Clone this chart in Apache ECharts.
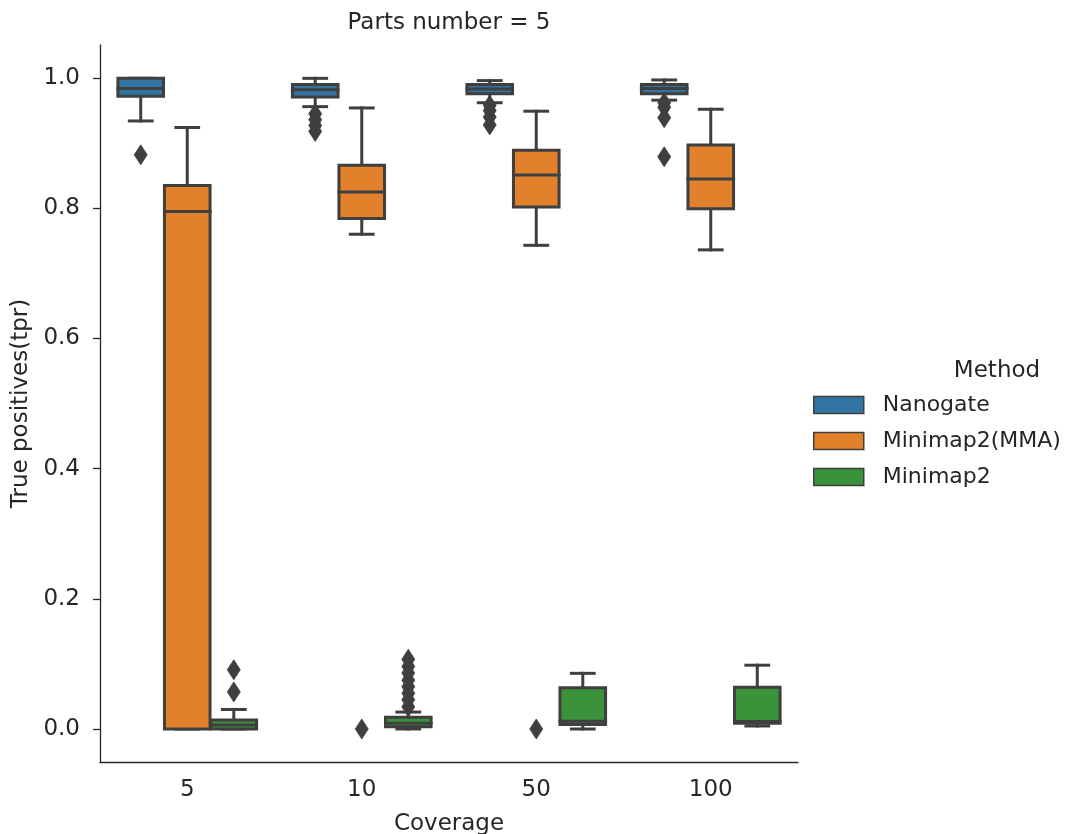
<!DOCTYPE html>
<html>
<head>
<meta charset="utf-8">
<script src="https://cdn.jsdelivr.net/npm/echarts@6/dist/echarts.min.js"></script>
<style>
  html, body { margin: 0; padding: 0; background: #fff; }
  #chart { width: 1082px; height: 834px; }
</style>
</head>
<body>
<div id="chart"></div>
<script>
// Coverage levels on the x axis
const categories = ['5', '10', '50', '100'];
const methods = ['Nanogate', 'Minimap2(MMA)', 'Minimap2'];
const yTicks = [0.0, 0.2, 0.4, 0.6, 0.8, 1.0];

// Box statistics per coverage: [whisker low, Q1, median, Q3, whisker high]
const nanogateBoxes = [
  [0.934, 0.972, 0.984, 0.9995, 0.9995],
  [0.956, 0.971, 0.982, 0.990, 0.9995],
  [0.962, 0.976, 0.983, 0.990, 0.996],
  [0.966, 0.976, 0.984, 0.990, 0.997]
];
const mmaBoxes = [
  [0.0, 0.0, 0.795, 0.835, 0.924],
  [0.760, 0.784, 0.825, 0.866, 0.954],
  [0.743, 0.802, 0.851, 0.889, 0.949],
  [0.736, 0.799, 0.845, 0.897, 0.952]
];
const minimapBoxes = [
  [0.0, 0.0, 0.006, 0.014, 0.030],
  [0.0, 0.0036, 0.009, 0.018, 0.026],
  [0.0, 0.007, 0.012, 0.0635, 0.0855],
  [0.0046, 0.0088, 0.0115, 0.064, 0.098]
];

// Outliers per coverage
const nanogateOutliers = [
  [0.882],
  [0.945, 0.936, 0.927, 0.918],
  [0.958, 0.950, 0.940, 0.928],
  [0.962, 0.955, 0.939, 0.879]
];
const mmaOutliers = [
  [],
  [0.0],
  [0.0],
  []
];
const minimapOutliers = [
  [0.057, 0.091],
  [0.034, 0.045, 0.055, 0.065, 0.075, 0.086, 0.096, 0.107],
  [],
  []
];

const FILLS = ['#3274a1', '#e1812c', '#3a923a'];
const EDGE = '#3f3f3f';
const TEXT = '#262626';
const FONT = 'DejaVu Sans';
const LW = 3;
const GROUP_WIDTH = 0.8;   // share of a category band used by the three boxes

function boxData(boxes) {
  return boxes.map((b, i) => [i].concat(b));
}
function outlierData(list) {
  const out = [];
  list.forEach((vals, i) => vals.forEach(v => out.push([i, v])));
  return out;
}

function slotGeometry(api, cat, slot) {
  const band = api.size([1, 0])[0];
  const step = band * GROUP_WIDTH / 3;
  const cx = api.coord([cat, 0])[0] + (slot - 1) * step;
  return { cx: cx, w: step * 0.98 };
}

function boxRenderer(slot) {
  return function (params, api) {
    const cat = api.value(0);
    const g = slotGeometry(api, cat, slot);
    const y = i => api.coord([cat, api.value(i)])[1];
    const yMin = y(1), yQ1 = y(2), yMed = y(3), yQ3 = y(4), yMax = y(5);
    const cap = g.w / 4;
    const ls = { stroke: EDGE, lineWidth: LW, lineCap: 'square', fill: null };
    return {
      type: 'group',
      children: [
        { type: 'line', shape: { x1: g.cx, y1: yQ3, x2: g.cx, y2: yMax }, style: ls },
        { type: 'line', shape: { x1: g.cx, y1: yQ1, x2: g.cx, y2: yMin }, style: ls },
        { type: 'line', shape: { x1: g.cx - cap, y1: yMax, x2: g.cx + cap, y2: yMax }, style: ls },
        { type: 'line', shape: { x1: g.cx - cap, y1: yMin, x2: g.cx + cap, y2: yMin }, style: ls },
        {
          type: 'rect',
          shape: { x: g.cx - g.w / 2, y: yQ3, width: g.w, height: yQ1 - yQ3 },
          style: { fill: FILLS[slot], stroke: EDGE, lineWidth: LW }
        },
        { type: 'line', shape: { x1: g.cx - g.w / 2, y1: yMed, x2: g.cx + g.w / 2, y2: yMed }, style: ls }
      ]
    };
  };
}

function outlierRenderer(slot) {
  return function (params, api) {
    const cat = api.value(0);
    const g = slotGeometry(api, cat, slot);
    const py = api.coord([cat, api.value(1)])[1];
    const hw = 6.5, hh = 10;
    return {
      type: 'polygon',
      shape: { points: [[g.cx, py - hh], [g.cx + hw, py], [g.cx, py + hh], [g.cx - hw, py]] },
      style: { fill: EDGE, stroke: EDGE, lineWidth: 0.8 }
    };
  };
}

const boxSets = [nanogateBoxes, mmaBoxes, minimapBoxes];
const outlierSets = [nanogateOutliers, mmaOutliers, minimapOutliers];

const series = [];
methods.forEach((m, k) => {
  series.push({
    name: m,
    type: 'custom',
    renderItem: boxRenderer(k),
    encode: { x: 0, y: [1, 2, 3, 4, 5] },
    itemStyle: { color: FILLS[k], borderColor: EDGE, borderWidth: 1.5 },
    data: boxData(boxSets[k]),
    z: 2
  });
});
methods.forEach((m, k) => {
  series.push({
    name: m,
    type: 'custom',
    renderItem: outlierRenderer(k),
    encode: { x: 0, y: 1 },
    itemStyle: { color: FILLS[k] },
    data: outlierData(outlierSets[k]),
    z: 3
  });
});

const chart = echarts.init(document.getElementById('chart'));
chart.setOption({
  animation: false,
  backgroundColor: '#ffffff',
  textStyle: { fontFamily: FONT, color: TEXT },
  title: [
    {
      text: 'Parts number = 5',
      left: 449, top: 12, textAlign: 'center', padding: 0,
      textStyle: { fontFamily: FONT, fontSize: 23, fontWeight: 'normal', color: TEXT }
    },
    {
      text: 'Method',
      left: 997, top: 360, textAlign: 'center', padding: 0,
      textStyle: { fontFamily: FONT, fontSize: 23, fontWeight: 'normal', color: TEXT }
    }
  ],
  legend: {
    data: methods,
    orient: 'vertical',
    left: 808,
    top: 389,
    icon: 'rect',
    itemWidth: 50,
    itemHeight: 17,
    itemGap: 14,
    itemStyle: { borderColor: EDGE, borderWidth: 1.5 },
    textStyle: { fontFamily: FONT, fontSize: 22, color: TEXT, padding: [0, 0, 0, 14] },
    selectedMode: false
  },
  grid: { left: 100, right: 284, top: 45, bottom: 72, outerBoundsMode: 'none', containLabel: false },
  xAxis: {
    type: 'category',
    data: categories,
    boundaryGap: true,
    name: 'Coverage',
    nameLocation: 'middle',
    nameGap: 51,
    nameTextStyle: { fontFamily: FONT, fontSize: 23, color: TEXT },
    axisLine: { onZero: false, lineStyle: { color: TEXT, width: 1.3 } },
    axisTick: { alignWithLabel: true, length: 7, lineStyle: { color: TEXT, width: 1.3 } },
    axisLabel: { margin: 17, fontFamily: FONT, fontSize: 23, color: TEXT },
    splitLine: { show: false }
  },
  yAxis: {
    type: 'value',
    min: -0.0507,
    max: 1.0507,
    name: 'True positives(tpr)',
    nameLocation: 'middle',
    nameGap: 61,
    nameTextStyle: { fontFamily: FONT, fontSize: 23, color: TEXT },
    axisLine: { show: true, onZero: false, lineStyle: { color: TEXT, width: 1.3 } },
    axisTick: { show: true, length: 7, customValues: yTicks, lineStyle: { color: TEXT, width: 1.3 } },
    axisLabel: {
      margin: 20, fontFamily: FONT, fontSize: 23, color: TEXT,
      customValues: yTicks,
      formatter: v => v.toFixed(1)
    },
    splitLine: { show: false }
  },
  series: series
});
</script>
</body>
</html>
